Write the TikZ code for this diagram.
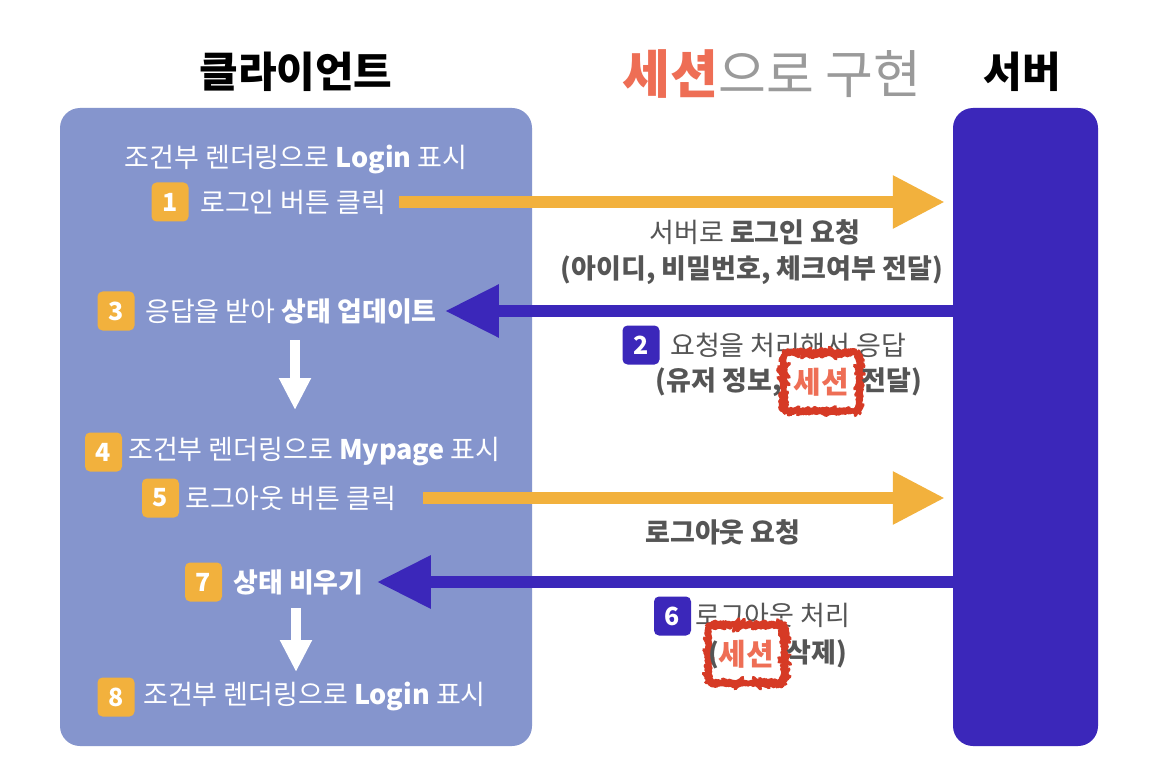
\documentclass[tikz,border=0pt]{standalone}
\usepackage{fontspec}
\setmainfont{Noto Sans CJK KR}
\usetikzlibrary{arrows.meta,positioning,decorations.pathmorphing}
\definecolor{cliblue}{HTML}{8595CD}
\definecolor{srvblue}{HTML}{3B27BA}
\definecolor{badgeor}{HTML}{F2B13D}
\definecolor{txtgray}{HTML}{555555}
\definecolor{titlegray}{HTML}{9A9A9A}
\definecolor{coral}{HTML}{EE6E55}
\definecolor{sesred}{HTML}{D63A25}
\newcommand{\pxsize}[1]{\fontsize{#1}{#1}\selectfont}
\begin{document}
\begin{tikzpicture}[x=1pt, y=-1pt, line join=round,
	every node/.style={inner sep=0pt},
	box/.style={fill=#1, rounded corners=20pt, minimum width=472pt, minimum height=638pt},
	badge/.style={fill=#1, rounded corners=5pt, minimum width=37pt, minimum height=39pt,
		text=white, font=\pxsize{25}\bfseries},
	ltxt/.style={anchor=west, text=white, font=\pxsize{27}},
	rtxt/.style={text=txtgray, font=\pxsize{27}},
	sesbox/.style={draw=sesred, line width=3.5pt, fill=white, rounded corners=7pt,
		minimum width=76pt, minimum height=58pt, text=coral, font=\pxsize{30}\bfseries,
		decorate, decoration={random steps, segment length=1.2pt, amplitude=0.5pt}},
	orarr/.style={draw=badgeor, line width=12pt, -{Triangle[length=52pt,width=50pt]}},
	bluarr/.style={draw=srvblue, line width=12pt, -{Triangle[length=54pt,width=50pt]}},
	downarr/.style={draw=white, line width=10pt, -{Triangle[length=32pt,width=30pt]}}]
	\useasboundingbox (0,0) rectangle (1168,778);
	\fill[white] (0,0) rectangle (1168,778);
	% titles
	\node[font=\pxsize{42}\bfseries] (tcli) at (296,72) {클라이언트};
	\node[font=\pxsize{52}] (tmain) at (772,74) {{\color{coral}\bfseries 세션}{\color{titlegray}으로 구현}};
	\node[font=\pxsize{42}\bfseries] (tsrv) at (1022,72) {서버};
	% boxes
	\node[box=cliblue] (cli) at (296,427) {};
	\node[box=srvblue, minimum width=145pt] (srv) at (1025.5,427) {};
	% client side
	\node[ltxt, anchor=center] (t0) at (296,160) {조건부 렌더링으로 \textbf{Login} 표시};
	\node[badge=badgeor] (b1) at (170,202) {1};
	\node[ltxt] (t1) at (200,202) {로그인 버튼 클릭};
	\node[badge=badgeor] (b3) at (116,311) {3};
	\node[ltxt] (t3) at (145,311) {응답을 받아 \textbf{상태 업데이트}};
	\node[badge=badgeor] (b4) at (103.5,452) {4};
	\node[ltxt] (t4) at (128,452) {조건부 렌더링으로 \textbf{Mypage} 표시};
	\node[badge=badgeor] (b5) at (160.5,498) {5};
	\node[ltxt] (t5) at (185,498) {로그아웃 버튼 클릭};
	\node[badge=badgeor] (b7) at (203.5,582) {7};
	\node[ltxt] (t7) at (233,582) {\textbf{상태 비우기}};
	\node[badge=badgeor] (b8) at (116,697) {8};
	\node[ltxt] (t8) at (143,697) {조건부 렌더링으로 \textbf{Login} 표시};
	\coordinate (d1s) at (295,340);
	\coordinate (d1e) at (295,410);
	\coordinate (d2s) at (296,608);
	\coordinate (d2e) at (296,672);
	% server side labels
	\node[rtxt] (r1a) at (755,232) {서버로 \textbf{로그인 요청}};
	\node[rtxt] (r1b) at (752,270) {\textbf{(아이디, 비밀번호, 체크여부 전달)}};
	\node[badge=srvblue] (b2) at (641,345) {2};
	\node[rtxt, anchor=west] (r2a) at (670,345) {요청을 처리해서 응답};
	\node[sesbox] (ses1) at (821.5,382) {세션};
	\node[rtxt, anchor=east, font=\pxsize{27}\bfseries] (r2b) at (ses1.west) {(유저 정보,};
	\node[rtxt, anchor=west, font=\pxsize{27}\bfseries] (r2c) at (ses1.east) {전달)};
	\node[rtxt, font=\pxsize{27}\bfseries] (r5) at (723,532) {로그아웃 요청};
	\node[badge=srvblue] (b6) at (672.5,616) {6};
	\node[rtxt, anchor=west] (r6a) at (695,615) {로그아웃 처리};
	\node[sesbox] (ses2) at (746.5,654) {세션};
	\node[rtxt, font=\pxsize{27}\bfseries] (r6b) at (714,655) {(};
	\node[rtxt, anchor=west, font=\pxsize{27}\bfseries] (r6c) at (ses2.east) {삭제)};
	% arrows
	\draw[orarr, shorten <=13pt, shorten >=8pt] (t1.east) -- (t1.east -| srv.west);
	\draw[bluarr, shorten >=8pt] (srv.west |- t3.east) -- (t3.east);
	\draw[orarr, shorten <=27pt, shorten >=8pt] (t5.east) -- (t5.east -| srv.west);
	\draw[bluarr, shorten >=13pt] (srv.west |- t7.east) -- (t7.east);
	\draw[downarr] (d1s) -- (d1e);
	\draw[downarr] (d2s) -- (d2e);
\end{tikzpicture}
\end{document}
